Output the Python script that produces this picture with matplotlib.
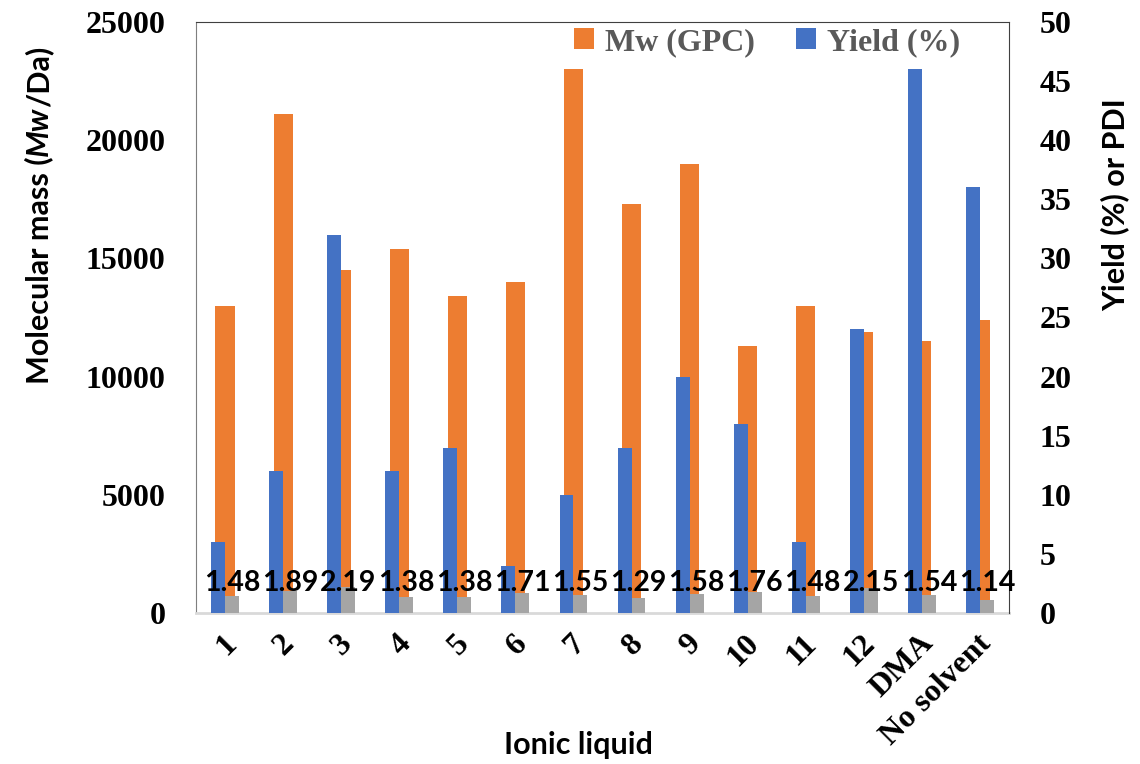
import matplotlib
matplotlib.use("Agg")
import matplotlib.pyplot as plt
import matplotlib.transforms as mtransforms
from matplotlib import font_manager
import numpy as np

categories = ["1", "2", "3", "4", "5", "6", "7", "8", "9", "10", "11", "12", "DMA", "No solvent"]
mw_gpc = [13000, 21100, 14500, 15400, 13400, 14000, 23000, 17300, 19000, 11300, 13000, 11900, 11500, 12400]
yield_pct = [6, 12, 32, 12, 14, 4, 10, 14, 20, 16, 6, 24, 46, 36]
pdi = [1.48, 1.89, 2.19, 1.38, 1.38, 1.71, 1.55, 1.29, 1.58, 1.76, 1.48, 2.15, 1.54, 1.14]
left_ticks = [0, 5000, 10000, 15000, 20000, 25000]
right_ticks = [0, 5, 10, 15, 20, 25, 30, 35, 40, 45, 50]

ORANGE = "#ED7D31"
BLUE = "#4472C4"
GRAY = "#A5A5A5"


def italic_font():
    prefs = ["Lato", "Open Sans", "Noto Sans", "Roboto", "Liberation Sans", "DejaVu Sans"]
    entries = font_manager.fontManager.ttflist
    for fam in prefs:
        cands = [f for f in entries if f.name == fam and f.style in ("italic", "oblique")]
        if not cands:
            continue
        def wnum(f):
            w = f.weight
            if isinstance(w, str):
                w = font_manager.weight_dict.get(w, 400)
            return abs(w - 700)
        cands.sort(key=wnum)
        return font_manager.FontProperties(fname=cands[0].fname)
    return font_manager.FontProperties(family="DejaVu Sans", style="oblique", weight="bold")


W, H = 1140, 764
fig = plt.figure(figsize=(W / 100, H / 100), dpi=100)
L, R, T, B = 196, 1009, 22, 613
ax = fig.add_axes([L / W, 1 - B / H, (R - L) / W, (B - T) / H])
ax2 = ax.twinx()

x = np.arange(len(categories))
ax.bar(x, mw_gpc, width=0.33, color=ORANGE, label="Mw (GPC)", zorder=2)
b_yield = ax2.bar(x - 0.12, yield_pct, width=0.24, color=BLUE, label="Yield (%)", zorder=2)
b_pdi = ax2.bar(x + 0.12, pdi, width=0.24, color=GRAY, zorder=2)

ax.set_xlim(-0.5, len(categories) - 0.5)
ax.set_ylim(0, 25000)
ax2.set_ylim(0, 50)
ax.set_yticks(left_ticks)
ax2.set_yticks(right_ticks)

tick_font = dict(family="Liberation Serif", weight="bold", size=23)
ax.set_yticklabels([str(t) for t in left_ticks], fontdict=tick_font)
ax2.set_yticklabels([str(t) for t in right_ticks], fontdict=tick_font)
ax.tick_params(axis="y", length=0, pad=22)
ax2.tick_params(axis="y", length=0, pad=22)
ax.set_xticks([])
ax2.set_xticks([])

# category labels
offset = mtransforms.ScaledTranslation(7 / 100, -26 / 100, fig.dpi_scale_trans)
trans = mtransforms.blended_transform_factory(ax.transData, ax.transAxes) + offset
for i, c in enumerate(categories):
    ax.text(i, 0, c, transform=trans, rotation=45, rotation_mode="anchor",
            ha="right", va="center", fontdict=tick_font)

# PDI labels
for i, v in enumerate(pdi):
    ax2.text(i + 0.12, 2.55, f"{v:.2f}", ha="center", va="center",
             family="Lato", weight="bold", size=20.5, color="black", zorder=5)

# spines
for a in (ax, ax2):
    for s in a.spines.values():
        s.set_visible(False)
ax.spines["left"].set_visible(True)
ax.spines["left"].set_color("#7F7F7F")
ax.spines["top"].set_visible(True)
ax.spines["top"].set_color("#404040")
ax2.spines["right"].set_visible(True)
ax2.spines["right"].set_color("#404040")
ax.spines["bottom"].set_visible(True)
ax.spines["bottom"].set_color("#D9D9D9")
ax.spines["bottom"].set_linewidth(2)

LABEL_SIZE = 22
label_font = dict(family="Lato", weight="bold", size=LABEL_SIZE)

# left y label composed of pieces (Mw in italic)
ital_fp = italic_font()
ital_fp.set_size(LABEL_SIZE)
ital_fp.set_weight("bold")
norm_fp = font_manager.FontProperties(family="Lato", weight="bold", size=LABEL_SIZE)
pieces = [("Molecular mass (", norm_fp), ("Mw", ital_fp), ("/Da)", norm_fp)]
renderer = fig.canvas.get_renderer()
lengths = []
for s, fp in pieces:
    t = fig.text(0, 0, s, fontproperties=fp, rotation=90)
    bb = t.get_window_extent(renderer)
    lengths.append(bb.height)
    t.remove()
total = sum(lengths)
cx, cy = 39, 215
ypos = (H - cy) - total / 2
for (s, fp), ln in zip(pieces, lengths):
    fig.text(cx / W, ypos / H, s, fontproperties=fp, rotation=90, ha="center", va="bottom")
    ypos += ln

fig.text(1115 / W, 1 - 205 / H, "Yield (%) or PDI", rotation=90, ha="center", va="center", **label_font)
fig.text(578 / W, 1 - 745 / H, "Ionic liquid", ha="center", va="center", **label_font)

h1, l1 = ax.get_legend_handles_labels()
leg = ax2.legend([h1[0], b_yield], [l1[0], "Yield (%)"], ncol=2, frameon=False,
                 loc="upper left", bbox_to_anchor=(574 / W, 1 - 28 / H),
                 bbox_transform=fig.transFigure,
                 prop=dict(family="Liberation Serif", weight="bold", size=23),
                 labelcolor="#595959", handlelength=0.62, handleheight=0.62,
                 handletextpad=0.35, columnspacing=1.3, borderpad=0, borderaxespad=0)

fig.savefig("out.png", dpi=100)
